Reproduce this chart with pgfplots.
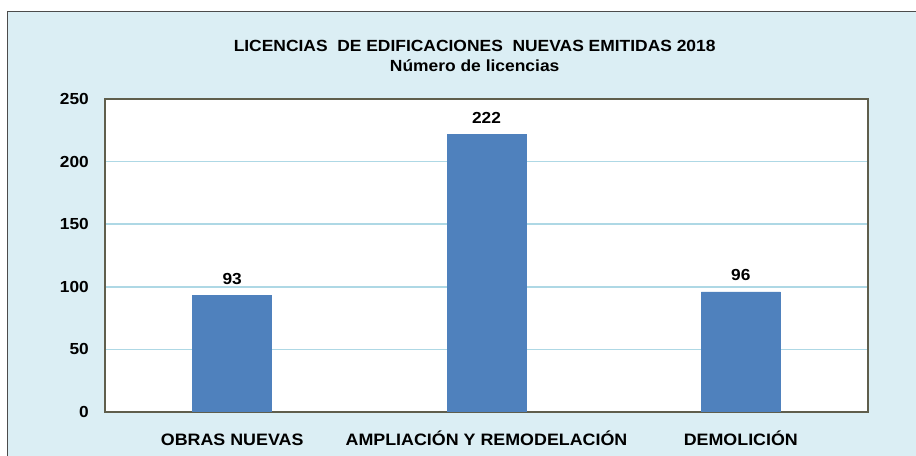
\documentclass[border=0pt]{standalone}
\usepackage{pgfplots}
\pgfplotsset{compat=1.18}
\usepackage{fontspec}
\setmainfont{Liberation Sans}[FakeStretch=1.08]

\definecolor{bgblue}{HTML}{DBEEF4}
\definecolor{gridblue}{HTML}{AED8E5}
\definecolor{barblue}{HTML}{4F81BD}
\definecolor{frameg}{HTML}{5F5E4C}

\begin{document}
\begin{tikzpicture}
\useasboundingbox (0,0) rectangle (687pt,342pt);
\fill[white] (0,0) rectangle (687pt,342pt);
\draw[fill=bgblue, draw=black!70, line width=0.6pt] (5.25pt,-5pt) rectangle (695pt,333.75pt);

\node[font=\bfseries\fontsize{12.1pt}{14.5pt}\selectfont, align=center] at (356pt,300pt)
  {LICENCIAS\ \ DE EDIFICACIONES\ \ NUEVAS EMITIDAS 2018\\Número de licencias};

\begin{axis}[
    at={(78.75pt,33pt)}, anchor=south west,
    scale only axis,
    width=572.25pt, height=234.75pt,
    axis background/.style={fill=white},
    axis line style={frameg, line width=0.8pt},
    ybar, bar width=59.25pt,
    xmin=-0.5, xmax=2.5,
    ymin=0, ymax=250,
    ytick={0,50,...,250},
    xtick=data,
    xticklabels={OBRAS NUEVAS, AMPLIACIÓN Y REMODELACIÓN, DEMOLICIÓN},
    tick style={draw=none},
    ymajorgrids,
    grid style={gridblue, line width=1.1pt},
    yticklabel style={anchor=east, inner sep=0pt, xshift=-12pt, font=\bfseries\fontsize{12pt}{14pt}\selectfont},
    xticklabel style={anchor=base, inner sep=0pt, yshift=-21pt, font=\bfseries\fontsize{12.4pt}{14pt}\selectfont},
    /pgf/number format/assume math mode=true,
    nodes near coords,
    nodes near coords style={anchor=south, inner sep=0pt, yshift=8pt, font=\bfseries\fontsize{12pt}{14pt}\selectfont},
]
\addplot[fill=barblue, draw=barblue] coordinates {(0,93) (1,222) (2,96)};
\end{axis}
\end{tikzpicture}
\end{document}
